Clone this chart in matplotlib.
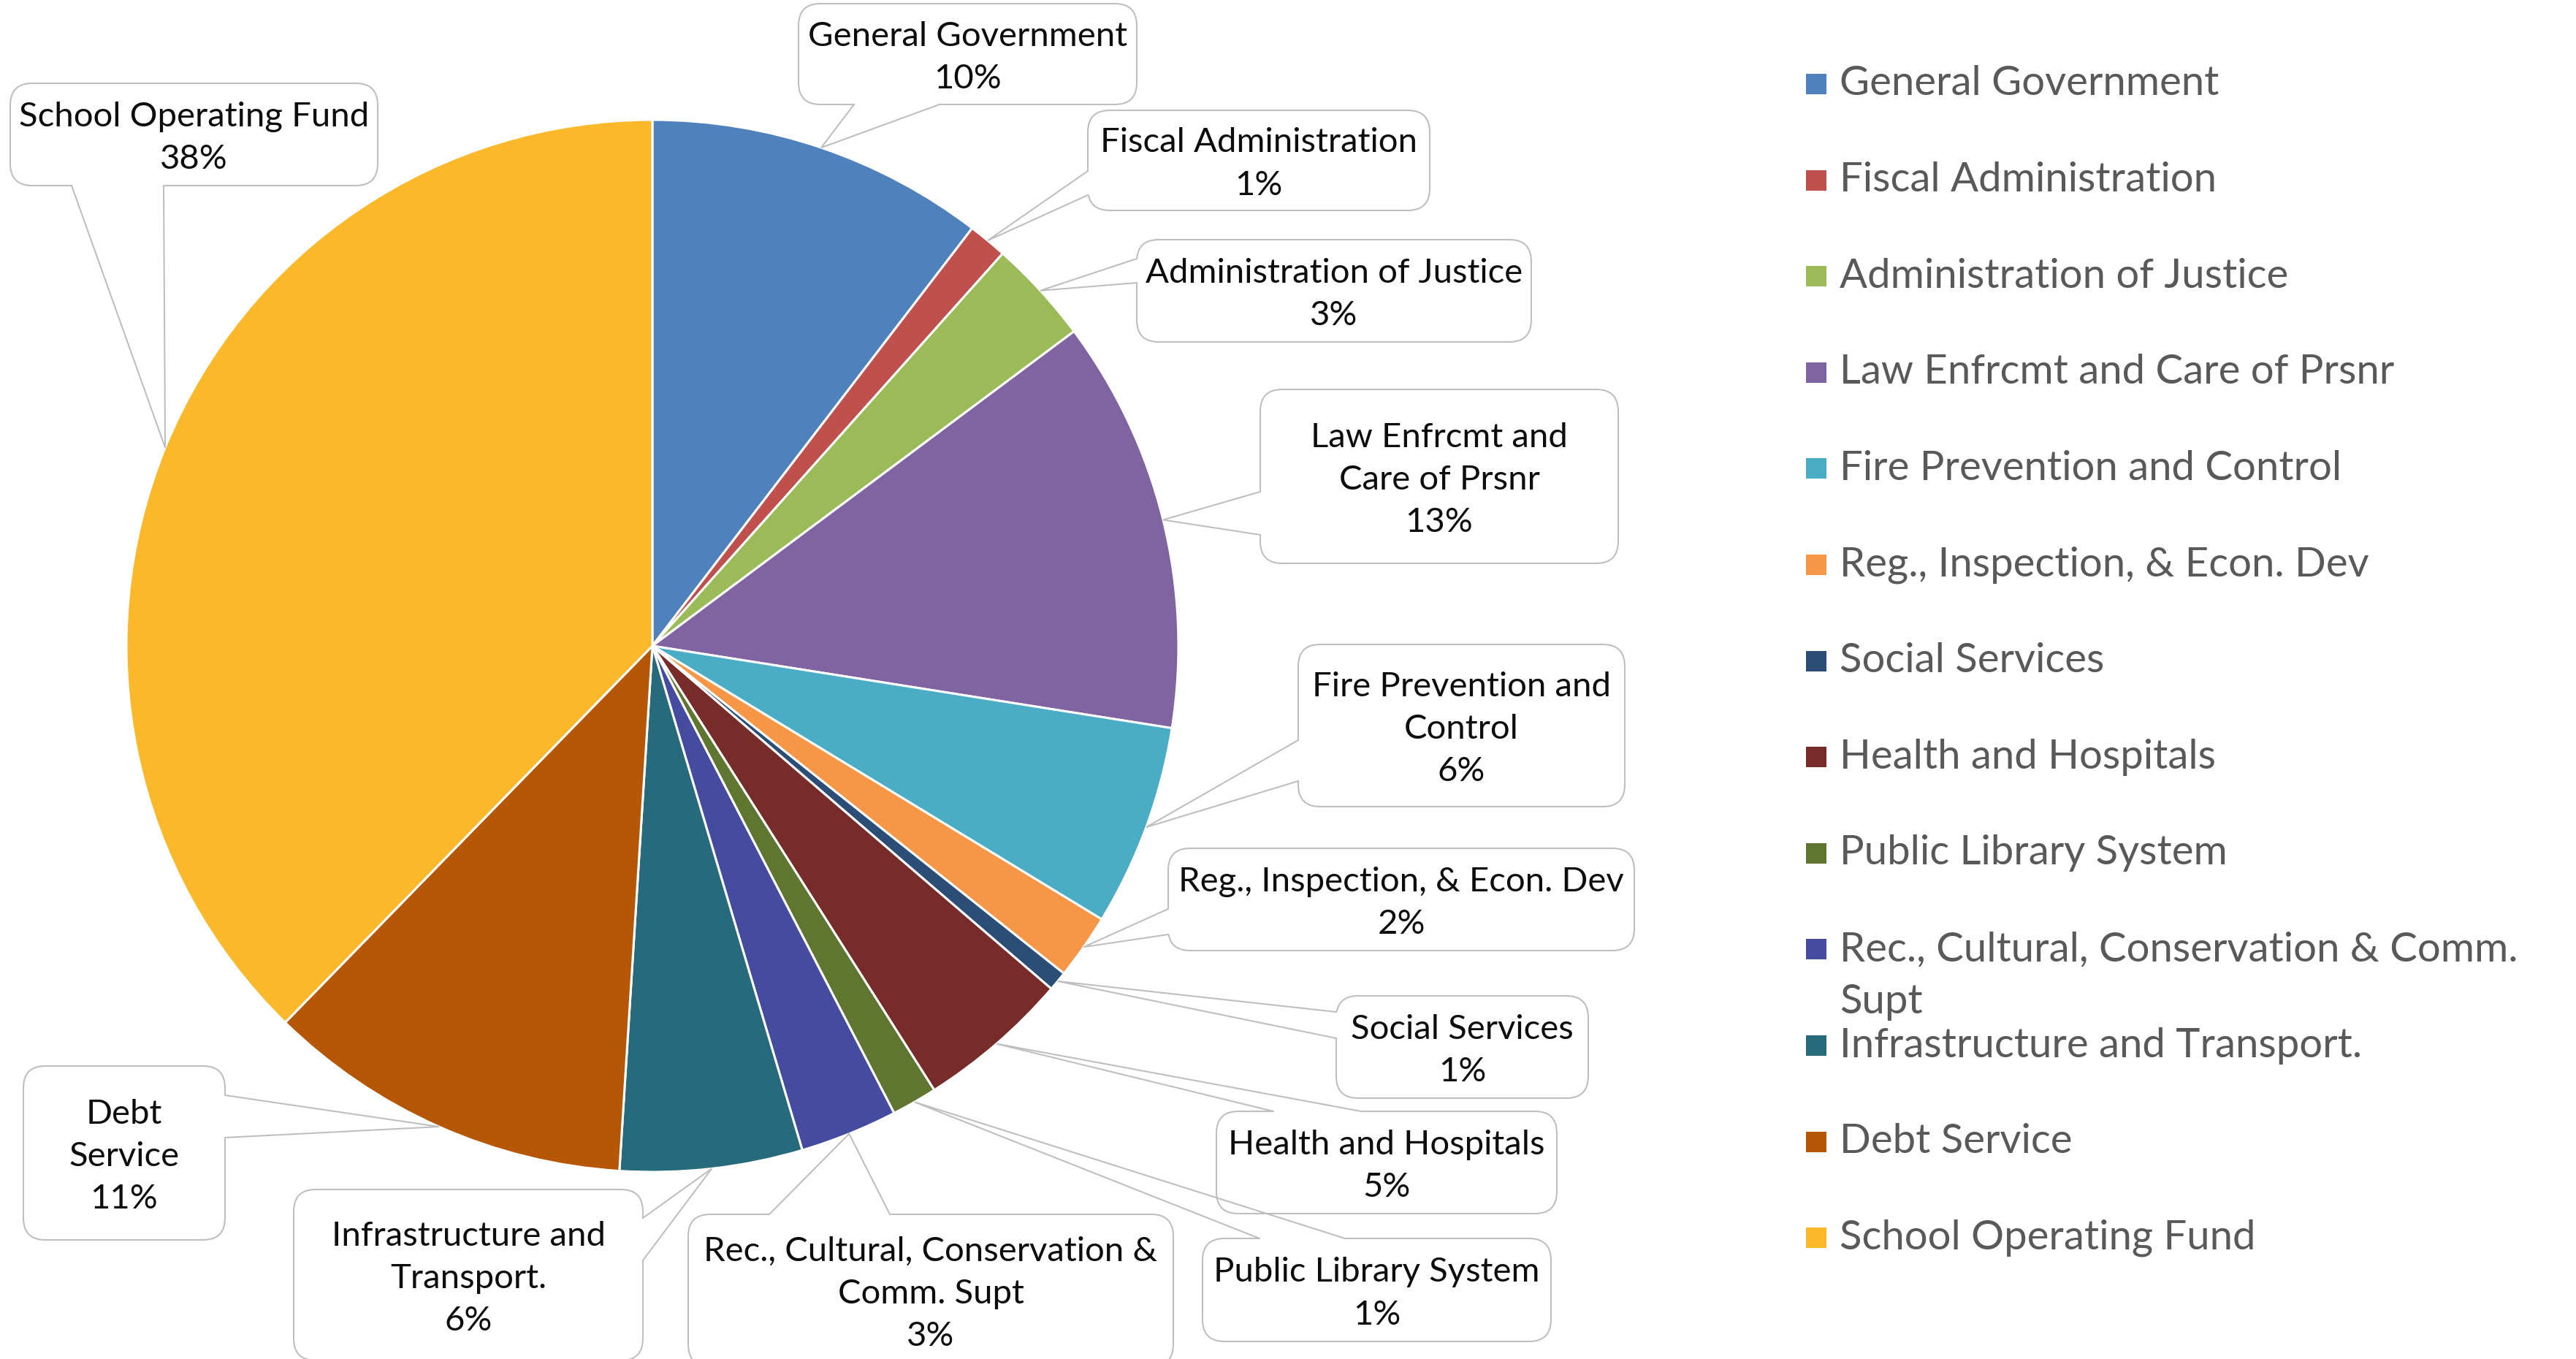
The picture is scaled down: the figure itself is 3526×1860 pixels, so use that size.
import matplotlib
matplotlib.use("Agg")
import matplotlib.pyplot as plt
from matplotlib.patches import FancyBboxPatch, Rectangle
import numpy as np

# ---------------- data ----------------
categories = [
    "General Government",
    "Fiscal Administration",
    "Administration of Justice",
    "Law Enfrcmt and Care of Prsnr",
    "Fire Prevention and Control",
    "Reg., Inspection, & Econ. Dev",
    "Social Services",
    "Health and Hospitals",
    "Public Library System",
    "Rec., Cultural, Conservation & Comm. Supt",
    "Infrastructure and Transport.",
    "Debt Service",
    "School Operating Fund",
]
shares = [10.4, 1.2, 3.2, 12.7, 6.2, 2.0, 0.6, 4.7, 1.4, 3.0, 5.6, 11.3, 37.7]
colors = [
    "#4F81BD", "#C0504D", "#9BBB59", "#8064A2", "#4BACC6", "#F79646",
    "#2C4D75", "#772C2A", "#5F7530", "#454B9E", "#276A7C", "#B65708", "#FBB82A",
]
# wrapped label texts for callouts and legend
callout_names = [
    "General Government",
    "Fiscal Administration",
    "Administration of Justice",
    "Law Enfrcmt and\nCare of Prsnr",
    "Fire Prevention and\nControl",
    "Reg., Inspection, & Econ. Dev",
    "Social Services",
    "Health and Hospitals",
    "Public Library System",
    "Rec., Cultural, Conservation &\nComm. Supt",
    "Infrastructure and\nTransport.",
    "Debt\nService",
    "School Operating Fund",
]
legend_names = [
    "General Government",
    "Fiscal Administration",
    "Administration of Justice",
    "Law Enfrcmt and Care of Prsnr",
    "Fire Prevention and Control",
    "Reg., Inspection, & Econ. Dev",
    "Social Services",
    "Health and Hospitals",
    "Public Library System",
    "Rec., Cultural, Conservation & Comm.\nSupt",
    "Infrastructure and Transport.",
    "Debt Service",
    "School Operating Fund",
]

# ---------------- layout (pixels) ----------------
W, H = 3526, 1860
CX, CY, R = 893, 884, 720
# callout boxes: (x0, y0, x1, y1), side of pointer base, base start, base end
boxes = [
    ((1093, 5, 1556, 143), "bottom", 1169, 1286),
    ((1489, 151, 1957, 288), "left", 234, 267),
    ((1556, 328, 2096, 468), "left", 354, 387),
    ((1725, 533, 2215, 771), "left", 673, 732),
    ((1777, 882, 2224, 1104), "left", 1013, 1069),
    ((1599, 1161, 2237, 1301), "left", 1244, 1279),
    ((1829, 1363, 2174, 1503), "left", 1385, 1421),
    ((1665, 1521, 2131, 1661), "top", 1743, 1863),
    ((1646, 1695, 2123, 1836), "top", 1724, 1841),
    ((942, 1662, 1606, 1870), "top", 1053, 1218),
    ((402, 1628, 880, 1862), "right", 1667, 1725),
    ((32, 1459, 308, 1697), "right", 1499, 1557),
    ((14, 114, 517, 254), "bottom", 98, 224),
]

FONT = ["Lato", "DejaVu Sans"]
plt.rcParams["font.family"] = FONT

fig = plt.figure(figsize=(W / 100, H / 100), dpi=100)
fig.patch.set_facecolor("white")
ax = fig.add_axes([0, 0, 1, 1])

wedges, _ = ax.pie(
    shares, colors=colors, startangle=-90, counterclock=True,
    center=(CX, CY), radius=R,
    wedgeprops=dict(edgecolor="white", linewidth=2.2),
)
ax.set_xlim(0, W)
ax.set_ylim(H, 0)
ax.set_aspect("auto")
ax.axis("off")

total = sum(shares)
edge_col = "#BFBFBF"
for w, name, val, (bx, side, b1, b2) in zip(wedges, callout_names, shares, boxes):
    x0, y0, x1, y1 = bx
    box = FancyBboxPatch((x0, y0), x1 - x0, y1 - y0,
                         boxstyle="round,pad=0,rounding_size=30",
                         facecolor="white", edgecolor=edge_col, linewidth=1.5,
                         zorder=3, clip_on=False)
    ax.add_patch(box)
    mid = np.deg2rad((w.theta1 + w.theta2) / 2)
    tip = (CX + R * np.cos(mid), CY + R * np.sin(mid))
    if side == "bottom":
        p1, p2 = (b1, y1), (b2, y1)
    elif side == "top":
        p1, p2 = (b1, y0), (b2, y0)
    elif side == "left":
        p1, p2 = (x0, b1), (x0, b2)
    else:
        p1, p2 = (x1, b1), (x1, b2)
    ax.plot([p1[0], p2[0]], [p1[1], p2[1]], color="white", lw=3, zorder=4,
            solid_capstyle="butt")
    ax.plot([p1[0], tip[0], p2[0]], [p1[1], tip[1], p2[1]], color=edge_col,
            lw=1.5, zorder=5, solid_joinstyle="miter")
    pct = f"{round(val / total * 100):d}%"
    ax.text((x0 + x1) / 2, (y0 + y1) / 2 + 5, name + "\n" + pct, ha="center",
            va="center", multialignment="center", fontsize=34,
            color="#0D0D0D", linespacing=1.48, zorder=6)

# legend
LX, LY0, LDY = 2472, 115, 131.6
for i, (name, col) in enumerate(zip(legend_names, colors)):
    y = LY0 + i * LDY
    ax.add_patch(Rectangle((LX, y - 14), 28, 28, facecolor=col, edgecolor="none"))
    for k, line in enumerate(name.split("\n")):
        ax.text(LX + 46, y + k * 72, line, ha="left", va="center",
                fontsize=40.5, color="#595959")

fig.savefig("out.png", dpi=100, facecolor="white")
